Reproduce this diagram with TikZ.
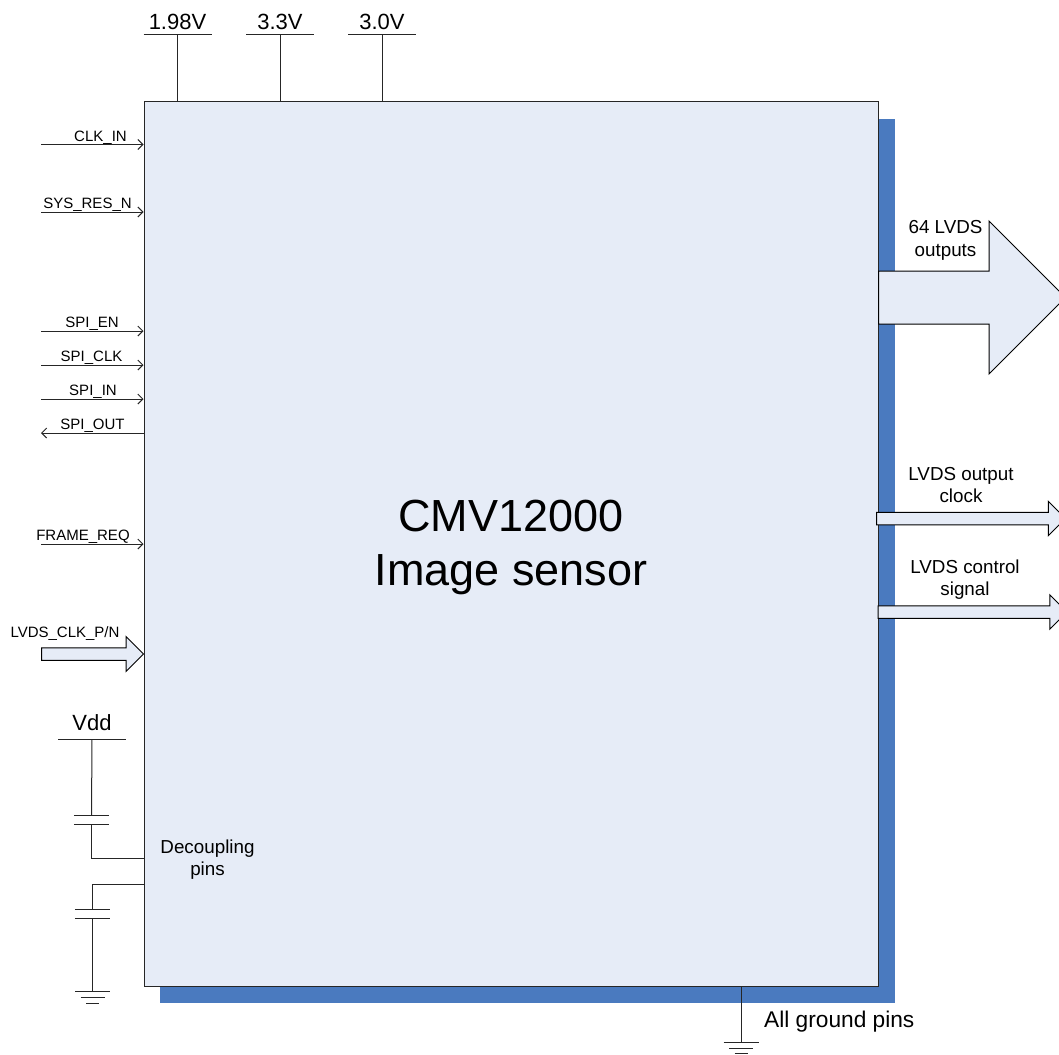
\documentclass[tikz,border=0pt]{standalone}
\usepackage{fontspec}
\setmainfont{Liberation Sans}
\usetikzlibrary{arrows.meta,shapes.arrows}
\definecolor{sensorfill}{HTML}{E6ECF7}
\definecolor{sensorshade}{HTML}{4A7ABF}
\tikzset{
    wire/.style={line width=1pt,black!85},
    pinarrow/.style={wire,-{Straight Barb[length=5pt,width=10pt]}},
    pinlabel/.style={anchor=base,inner sep=0pt,font=\fontsize{15}{15}\selectfont},
    midlabel/.style={align=center,inner sep=0pt,font=\fontsize{18.8}{22.5}\selectfont},
    rail/.style={anchor=base,inner sep=0pt,font=\fontsize{22}{22}\selectfont},
    fatarrow/.style={single arrow,anchor=tail,draw=black,line width=1pt,fill=sensorfill,inner xsep=0pt,
        single arrow head indent=0pt,single arrow tip angle=90},
    capplates/.style={minimum width=35pt,minimum height=8.5pt,inner sep=0pt},
}
\newcommand{\groundmark}[1]{
    \draw[wire] ([xshift=-17.5pt]#1) -- ([xshift=17.5pt]#1);
    \draw[wire] ([xshift=-12pt,yshift=-6pt]#1) -- ([xshift=12pt,yshift=-6pt]#1);
    \draw[wire] ([xshift=-6.5pt,yshift=-11.5pt]#1) -- ([xshift=6.5pt,yshift=-11.5pt]#1);
}
\begin{document}
\begin{tikzpicture}[x=1pt,y=-1pt]
    \useasboundingbox (0,0) rectangle (1059,1054);
    \node[fill=sensorshade,minimum width=735pt,minimum height=884pt,inner sep=0pt] (shade) at (527.5,561) {};
    \node[draw=black!85,line width=1pt,fill=sensorfill,minimum width=734pt,minimum height=884pt,inner sep=0pt] (sensor) at (511,544) {};
    \node[align=center,inner sep=0pt,font=\fontsize{45}{53.5}\selectfont] (title) at (511,547.5) {CMV12000\\Image sensor};

    % supply rails
    \foreach \railname/\railx/\railtext in {ra/177.5/1.98V,rb/280/3.3V,rc/382/3.0V}{
        \node[rail] (\railname) at (\railx,30) {\railtext};
        \coordinate (\railname top) at (\railx,35);
        \draw[wire] ([xshift=-34pt]\railname top) -- ([xshift=34pt]\railname top);
        \draw[wire] (\railname top) -- (\railname top |- sensor.north);
    }

    % input pins
    \foreach \pinname/\piny/\labx/\labtext in {clkin/144.5/100.5/CLK\_IN,sysres/212/87.5/SYS\_RES\_N,spien/331/92/SPI\_EN,spiclk/365/91.5/SPI\_CLK,spiin/399/93/SPI\_IN,framereq/544/83/FRAME\_REQ}{
        \coordinate (\pinname) at (41,\piny);
        \draw[pinarrow] (\pinname) -- (\pinname -| sensor.west);
        \node[pinlabel] (\pinname lab) at (\labx,\piny-3.5) {\labtext};
    }
    \coordinate (spiout) at (41,433);
    \draw[pinarrow] (spiout -| sensor.west) -- (spiout);
    \node[pinlabel] (spioutlab) at (92.5,429.5) {SPI\_OUT};

    \node[pinlabel] (lvdsclklab) at (65,637) {LVDS\_CLK\_P/N};
    \node[fatarrow,minimum height=102pt,inner ysep=5.75pt,single arrow head extend=11.25pt] (lvdsclk) at (41,654) {};

    % outputs
    \node[fatarrow,minimum height=187pt,inner ysep=26pt,single arrow head extend=50pt] (lvdsout) at (878,297.5) {};
    \node[fatarrow,minimum height=189pt,inner ysep=5.75pt,single arrow head extend=11pt] (lvdsoclk) at (876,518.5) {};
    \node[fatarrow,minimum height=189pt,inner ysep=5.75pt,single arrow head extend=11pt] (lvdsctl) at (877.5,612) {};
    \node[midlabel] (lvdsoutlab) at (945.5,240.5) {64 LVDS\\outputs};
    \node[midlabel] (lvdsoclklab) at (961,485) {LVDS output\\clock};
    \node[midlabel] (lvdsctllab) at (965,579.5) {LVDS control\\signal};

    % decoupling
    \node[midlabel] (decoup) at (207.5,859.5) {Decoupling\\pins};
    \node[rail] (vdd) at (92,730.5) {Vdd};
    \coordinate (vddtop) at (92,739.5);
    \draw[wire] ([xshift=-34pt]vddtop) -- ([xshift=34pt]vddtop);
    \node[capplates] (capa) at (91.5,820.25) {};
    \node[capplates] (capb) at (92.5,913.75) {};
    \foreach \capname in {capa,capb}{
        \draw[wire] (\capname.north west) -- (\capname.north east);
        \draw[wire] (\capname.south west) -- (\capname.south east);
    }
    \coordinate (gnda) at (92.5,991.5);
    \coordinate (gndb) at (741,1042);
    \draw[wire] (vddtop) -- (capa.north);
    \draw[wire] (capa.south) |- (144,858.5);
    \draw[wire] (capb.north) |- (144,884);
    \draw[wire] (capb.south) -- (gnda);
    \groundmark{gnda}
    \draw[wire] (gndb |- sensor.south) -- (gndb);
    \groundmark{gndb}
    \node[anchor=base west,inner sep=0pt,font=\fontsize{22.7}{22.7}\selectfont] (gndlab) at (764,1027) {All ground pins};
\end{tikzpicture}
\end{document}
